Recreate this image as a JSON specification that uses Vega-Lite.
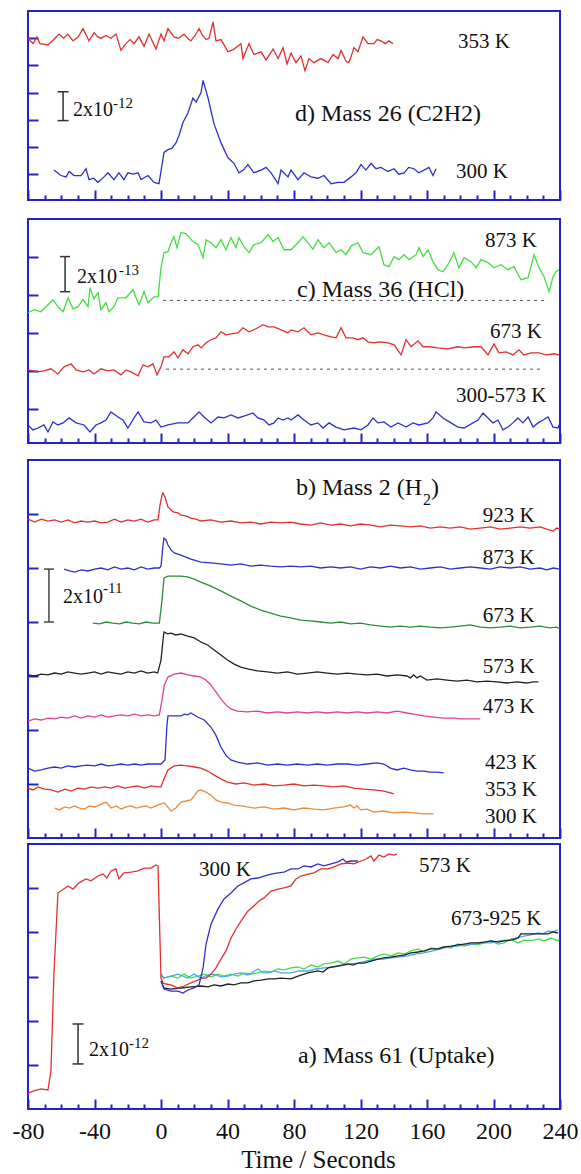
{
"$schema": "https://vega.github.io/schema/vega-lite/v6.json",
"padding": {"left": 11, "top": 10, "right": 5, "bottom": 0},
"background": "white",
"config": {"view": {"stroke": "#2323cc", "strokeWidth": 2}, "font": "Liberation Serif, Times New Roman, Times, DejaVu Serif, serif", "text": {"font": "Liberation Serif, Times New Roman, Times, DejaVu Serif, serif"}},
"datasets": {
"d": [
{"s":"d353","t":-80,"v":12.0},{"s":"d353","t":-77,"v":11.6},{"s":"d353","t":-74.6,"v":12.1},{"s":"d353","t":-72.8,"v":11.6},{"s":"d353","t":-68,"v":11.5},{"s":"d353","t":-64.5,"v":11.9},{"s":"d353","t":-61.4,"v":12.3},{"s":"d353","t":-58.5,"v":12.0},{"s":"d353","t":-56,"v":12.3},{"s":"d353","t":-52.9,"v":11.8},{"s":"d353","t":-49.8,"v":12.1},{"s":"d353","t":-46.9,"v":12.7},{"s":"d353","t":-43.3,"v":11.8},{"s":"d353","t":-40.3,"v":12.4},{"s":"d353","t":-38,"v":12.1},{"s":"d353","t":-36.1,"v":12.0},{"s":"d353","t":-33,"v":12.2},{"s":"d353","t":-30.1,"v":12.0},{"s":"d353","t":-27,"v":12.3},{"s":"d353","t":-24.1,"v":11.1},{"s":"d353","t":-21.1,"v":11.6},{"s":"d353","t":-18.5,"v":11.9},{"s":"d353","t":-16.2,"v":11.6},{"s":"d353","t":-13.2,"v":12.1},{"s":"d353","t":-10.2,"v":11.4},{"s":"d353","t":-7.2,"v":12.3},{"s":"d353","t":-3,"v":11.2},{"s":"d353","t":0,"v":12.3},{"s":"d353","t":1.8,"v":11.8},{"s":"d353","t":4.2,"v":12.7},{"s":"d353","t":7.8,"v":12.1},{"s":"d353","t":10.5,"v":12.0},{"s":"d353","t":13.8,"v":12.3},{"s":"d353","t":16,"v":12.0},{"s":"d353","t":18,"v":11.8},{"s":"d353","t":20.5,"v":12.2},{"s":"d353","t":22.9,"v":12.7},{"s":"d353","t":25,"v":12.2},{"s":"d353","t":27.1,"v":11.9},{"s":"d353","t":28.9,"v":12.0},{"s":"d353","t":31.3,"v":13.2},{"s":"d353","t":33.1,"v":11.8},{"s":"d353","t":36.1,"v":11.9},{"s":"d353","t":40.3,"v":11.0},{"s":"d353","t":43.9,"v":11.2},{"s":"d353","t":48.1,"v":11.6},{"s":"d353","t":49.3,"v":10.5},{"s":"d353","t":52.9,"v":11.6},{"s":"d353","t":55.9,"v":10.8},{"s":"d353","t":60.2,"v":11.0},{"s":"d353","t":63.2,"v":10.4},{"s":"d353","t":67.4,"v":11.2},{"s":"d353","t":70.4,"v":10.5},{"s":"d353","t":73.4,"v":11.3},{"s":"d353","t":75.8,"v":10.1},{"s":"d353","t":78.2,"v":10.9},{"s":"d353","t":81.2,"v":10.2},{"s":"d353","t":84.2,"v":10.7},{"s":"d353","t":86.6,"v":9.6},{"s":"d353","t":89,"v":10.5},{"s":"d353","t":92,"v":10.2},{"s":"d353","t":96.2,"v":10.5},{"s":"d353","t":100.5,"v":10.2},{"s":"d353","t":103.5,"v":10.8},{"s":"d353","t":106.5,"v":10.5},{"s":"d353","t":108.3,"v":11.1},{"s":"d353","t":111.3,"v":10.3},{"s":"d353","t":113.1,"v":10.2},{"s":"d353","t":116.1,"v":11.3},{"s":"d353","t":118.5,"v":11.0},{"s":"d353","t":121.5,"v":12.1},{"s":"d353","t":124.5,"v":11.6},{"s":"d353","t":128.1,"v":11.6},{"s":"d353","t":130,"v":11.9},{"s":"d353","t":132.3,"v":11.8},{"s":"d353","t":135,"v":11.6},{"s":"d353","t":137.1,"v":11.8},{"s":"d353","t":139.5,"v":11.6},
{"s":"d300","t":-64.4,"v":2.3},{"s":"d300","t":-60.2,"v":1.9},{"s":"d300","t":-57.1,"v":1.8},{"s":"d300","t":-55.3,"v":2.2},{"s":"d300","t":-52.3,"v":1.9},{"s":"d300","t":-48.1,"v":1.9},{"s":"d300","t":-45.1,"v":2.4},{"s":"d300","t":-43.3,"v":1.6},{"s":"d300","t":-40.5,"v":1.7},{"s":"d300","t":-37.9,"v":1.4},{"s":"d300","t":-34.3,"v":1.8},{"s":"d300","t":-31.9,"v":2.1},{"s":"d300","t":-28.3,"v":1.6},{"s":"d300","t":-25.3,"v":2.1},{"s":"d300","t":-22.3,"v":1.6},{"s":"d300","t":-19.9,"v":2.1},{"s":"d300","t":-16.8,"v":2.0},{"s":"d300","t":-13.8,"v":2.1},{"s":"d300","t":-12,"v":1.6},{"s":"d300","t":-7.8,"v":1.9},{"s":"d300","t":-4.2,"v":1.4},{"s":"d300","t":-1.2,"v":1.3},{"s":"d300","t":1.8,"v":3.6},{"s":"d300","t":4.2,"v":3.8},{"s":"d300","t":6.5,"v":3.9},{"s":"d300","t":9,"v":4.3},{"s":"d300","t":11,"v":4.9},{"s":"d300","t":13.2,"v":5.8},{"s":"d300","t":16.2,"v":6.5},{"s":"d300","t":19.2,"v":7.6},{"s":"d300","t":21.1,"v":7.3},{"s":"d300","t":24.1,"v":8.0},{"s":"d300","t":25.3,"v":8.9},{"s":"d300","t":28.3,"v":7.6},{"s":"d300","t":31.9,"v":5.7},{"s":"d300","t":36.1,"v":4.3},{"s":"d300","t":40.3,"v":3.2},{"s":"d300","t":43.9,"v":2.8},{"s":"d300","t":46.9,"v":2.1},{"s":"d300","t":49.5,"v":2.3},{"s":"d300","t":52.3,"v":2.7},{"s":"d300","t":55.9,"v":2.1},{"s":"d300","t":60.2,"v":2.3},{"s":"d300","t":63.2,"v":2.5},{"s":"d300","t":66.2,"v":2.1},{"s":"d300","t":70.4,"v":1.3},{"s":"d300","t":72.2,"v":2.3},{"s":"d300","t":76.4,"v":1.8},{"s":"d300","t":78.2,"v":2.3},{"s":"d300","t":82.4,"v":1.6},{"s":"d300","t":86,"v":2.1},{"s":"d300","t":90.2,"v":1.8},{"s":"d300","t":94.4,"v":1.7},{"s":"d300","t":98,"v":1.9},{"s":"d300","t":102.3,"v":1.3},{"s":"d300","t":106.5,"v":1.4},{"s":"d300","t":110.1,"v":1.4},{"s":"d300","t":114.3,"v":1.8},{"s":"d300","t":117.3,"v":2.1},{"s":"d300","t":120.3,"v":2.7},{"s":"d300","t":123.3,"v":2.3},{"s":"d300","t":126.3,"v":2.8},{"s":"d300","t":129.3,"v":2.4},{"s":"d300","t":132.3,"v":2.5},{"s":"d300","t":136.5,"v":2.2},{"s":"d300","t":140.2,"v":2.4},{"s":"d300","t":143,"v":2.0},{"s":"d300","t":146.2,"v":2.1},{"s":"d300","t":149,"v":2.5},{"s":"d300","t":152.2,"v":2.4},{"s":"d300","t":155,"v":2.1},{"s":"d300","t":158.2,"v":2.3},{"s":"d300","t":161.2,"v":2.5},{"s":"d300","t":163.6,"v":1.9},{"s":"d300","t":165.4,"v":2.4}
],
"c": [
{"s":"c873","t":-80,"v":7.06},{"s":"c873","t":-76.4,"v":7.22},{"s":"c873","t":-72.2,"v":7.11},{"s":"c873","t":-68,"v":7.48},{"s":"c873","t":-65,"v":7.75},{"s":"c873","t":-62,"v":7.38},{"s":"c873","t":-58.9,"v":7.11},{"s":"c873","t":-55.9,"v":7.85},{"s":"c873","t":-52.9,"v":7.27},{"s":"c873","t":-49.9,"v":7.38},{"s":"c873","t":-46.9,"v":7.75},{"s":"c873","t":-43.9,"v":7.38},{"s":"c873","t":-42.7,"v":8.38},{"s":"c873","t":-40.3,"v":7.8},{"s":"c873","t":-37.9,"v":8.12},{"s":"c873","t":-36.1,"v":7.22},{"s":"c873","t":-33.1,"v":7.59},{"s":"c873","t":-31.3,"v":7.11},{"s":"c873","t":-28.3,"v":7.38},{"s":"c873","t":-25.9,"v":7.85},{"s":"c873","t":-21.1,"v":7.85},{"s":"c873","t":-16.8,"v":8.27},{"s":"c873","t":-15,"v":7.85},{"s":"c873","t":-13.2,"v":7.48},{"s":"c873","t":-10.2,"v":8.17},{"s":"c873","t":-7.8,"v":7.59},{"s":"c873","t":-4.2,"v":7.9},{"s":"c873","t":-1.8,"v":7.9},{"s":"c873","t":0,"v":9.43},{"s":"c873","t":1.8,"v":10.23},{"s":"c873","t":4.2,"v":10.28},{"s":"c873","t":6,"v":10.75},{"s":"c873","t":7.8,"v":11.07},{"s":"c873","t":9.6,"v":10.49},{"s":"c873","t":12,"v":11.28},{"s":"c873","t":15,"v":11.23},{"s":"c873","t":19.2,"v":10.81},{"s":"c873","t":22.3,"v":10.65},{"s":"c873","t":25.3,"v":9.96},{"s":"c873","t":27.1,"v":10.91},{"s":"c873","t":30.1,"v":10.75},{"s":"c873","t":33.1,"v":10.49},{"s":"c873","t":36.1,"v":10.91},{"s":"c873","t":39.1,"v":10.38},{"s":"c873","t":42.1,"v":11.02},{"s":"c873","t":45.1,"v":10.49},{"s":"c873","t":46.9,"v":11.02},{"s":"c873","t":49.9,"v":10.54},{"s":"c873","t":52.9,"v":10.23},{"s":"c873","t":55.9,"v":10.65},{"s":"c873","t":60.2,"v":10.75},{"s":"c873","t":64.4,"v":11.18},{"s":"c873","t":67.4,"v":10.81},{"s":"c873","t":70.4,"v":11.02},{"s":"c873","t":74,"v":10.38},{"s":"c873","t":78.2,"v":10.38},{"s":"c873","t":82.4,"v":10.75},{"s":"c873","t":85.4,"v":11.07},{"s":"c873","t":88.4,"v":10.75},{"s":"c873","t":91.4,"v":10.4},{"s":"c873","t":94.4,"v":10.91},{"s":"c873","t":98,"v":10.49},{"s":"c873","t":101.1,"v":10.75},{"s":"c873","t":105.3,"v":10.23},{"s":"c873","t":108.3,"v":10.38},{"s":"c873","t":111.3,"v":10.12},{"s":"c873","t":114.5,"v":10.6},{"s":"c873","t":118.5,"v":10.75},{"s":"c873","t":121.5,"v":10.23},{"s":"c873","t":126.3,"v":10.12},{"s":"c873","t":131.1,"v":10.54},{"s":"c873","t":134.1,"v":9.59},{"s":"c873","t":137.1,"v":9.49},{"s":"c873","t":140.2,"v":10.02},{"s":"c873","t":143.2,"v":9.86},{"s":"c873","t":146.2,"v":10.12},{"s":"c873","t":149.2,"v":9.86},{"s":"c873","t":153.4,"v":10.12},{"s":"c873","t":155.2,"v":10.49},{"s":"c873","t":157.6,"v":10.02},{"s":"c873","t":160.6,"v":10.38},{"s":"c873","t":163.6,"v":9.75},{"s":"c873","t":166.6,"v":9.33},{"s":"c873","t":169.6,"v":9.22},{"s":"c873","t":172.6,"v":9.59},{"s":"c873","t":176.2,"v":10.23},{"s":"c873","t":179.2,"v":9.43},{"s":"c873","t":182.3,"v":9.96},{"s":"c873","t":186.5,"v":9.75},{"s":"c873","t":189.5,"v":9.43},{"s":"c873","t":192.5,"v":9.86},{"s":"c873","t":196.7,"v":9.7},{"s":"c873","t":200.3,"v":9.43},{"s":"c873","t":204.5,"v":9.59},{"s":"c873","t":208.7,"v":9.33},{"s":"c873","t":212.3,"v":9.49},{"s":"c873","t":216.5,"v":8.8},{"s":"c873","t":220.8,"v":8.91},{"s":"c873","t":224.4,"v":10.12},{"s":"c873","t":227.4,"v":9.43},{"s":"c873","t":230.4,"v":8.96},{"s":"c873","t":233.4,"v":8.17},{"s":"c873","t":235.8,"v":8.96},{"s":"c873","t":237.6,"v":9.22},{"s":"c873","t":239.4,"v":9.33},
{"s":"c673","t":-80,"v":4.05},{"s":"c673","t":-74,"v":3.95},{"s":"c673","t":-70.4,"v":4.0},{"s":"c673","t":-66.2,"v":4.11},{"s":"c673","t":-62,"v":3.84},{"s":"c673","t":-58.3,"v":4.21},{"s":"c673","t":-54.1,"v":4.37},{"s":"c673","t":-51.1,"v":4.05},{"s":"c673","t":-46.9,"v":3.95},{"s":"c673","t":-43.3,"v":4.05},{"s":"c673","t":-40.3,"v":3.84},{"s":"c673","t":-36.1,"v":4.11},{"s":"c673","t":-31.9,"v":4.0},{"s":"c673","t":-28.3,"v":4.05},{"s":"c673","t":-24.1,"v":3.79},{"s":"c673","t":-21.1,"v":4.05},{"s":"c673","t":-18,"v":3.95},{"s":"c673","t":-13.8,"v":3.74},{"s":"c673","t":-10.8,"v":4.32},{"s":"c673","t":-7.8,"v":4.21},{"s":"c673","t":-4.8,"v":4.37},{"s":"c673","t":-2.4,"v":3.79},{"s":"c673","t":0,"v":4.21},{"s":"c673","t":1.8,"v":4.74},{"s":"c673","t":4.8,"v":4.74},{"s":"c673","t":7.8,"v":5.0},{"s":"c673","t":10.2,"v":4.69},{"s":"c673","t":13.2,"v":5.11},{"s":"c673","t":16.2,"v":4.9},{"s":"c673","t":19.2,"v":5.27},{"s":"c673","t":22.3,"v":5.37},{"s":"c673","t":24.1,"v":5.21},{"s":"c673","t":27.1,"v":5.48},{"s":"c673","t":30.1,"v":5.64},{"s":"c673","t":33.1,"v":5.74},{"s":"c673","t":36.1,"v":6.06},{"s":"c673","t":39.1,"v":5.9},{"s":"c673","t":42.1,"v":5.95},{"s":"c673","t":46.3,"v":6.0},{"s":"c673","t":49.3,"v":6.27},{"s":"c673","t":52.9,"v":6.06},{"s":"c673","t":57.1,"v":6.22},{"s":"c673","t":61.4,"v":6.43},{"s":"c673","t":64.4,"v":6.32},{"s":"c673","t":68,"v":6.32},{"s":"c673","t":72.2,"v":6.16},{"s":"c673","t":76.4,"v":6.0},{"s":"c673","t":78.2,"v":6.16},{"s":"c673","t":82.4,"v":6.06},{"s":"c673","t":86,"v":6.27},{"s":"c673","t":90.2,"v":5.9},{"s":"c673","t":94.4,"v":6.0},{"s":"c673","t":98,"v":5.9},{"s":"c673","t":102.3,"v":5.79},{"s":"c673","t":105.3,"v":5.74},{"s":"c673","t":108.3,"v":6.27},{"s":"c673","t":111.3,"v":5.74},{"s":"c673","t":115.5,"v":5.74},{"s":"c673","t":118.5,"v":5.64},{"s":"c673","t":121.5,"v":5.74},{"s":"c673","t":124.5,"v":5.53},{"s":"c673","t":128.1,"v":5.48},{"s":"c673","t":132.3,"v":5.53},{"s":"c673","t":136.5,"v":5.48},{"s":"c673","t":140.2,"v":5.37},{"s":"c673","t":144.4,"v":4.84},{"s":"c673","t":147.4,"v":5.64},{"s":"c673","t":150.4,"v":5.27},{"s":"c673","t":154.6,"v":5.58},{"s":"c673","t":157.6,"v":5.27},{"s":"c673","t":161.2,"v":5.27},{"s":"c673","t":166.6,"v":5.21},{"s":"c673","t":172.6,"v":5.16},{"s":"c673","t":178.6,"v":5.27},{"s":"c673","t":182.3,"v":5.21},{"s":"c673","t":188.3,"v":5.27},{"s":"c673","t":192.5,"v":5.27},{"s":"c673","t":196.7,"v":4.84},{"s":"c673","t":200.3,"v":5.42},{"s":"c673","t":203.3,"v":4.95},{"s":"c673","t":207.5,"v":5.0},{"s":"c673","t":211.7,"v":4.84},{"s":"c673","t":215.3,"v":5.11},{"s":"c673","t":218.3,"v":4.84},{"s":"c673","t":222.6,"v":4.95},{"s":"c673","t":227.4,"v":4.95},{"s":"c673","t":231.6,"v":4.84},{"s":"c673","t":236.4,"v":4.9},{"s":"c673","t":239.4,"v":4.84},
{"s":"c300","t":-80,"v":1.15},{"s":"c300","t":-77,"v":0.89},{"s":"c300","t":-74,"v":0.99},{"s":"c300","t":-70.4,"v":1.15},{"s":"c300","t":-68,"v":0.78},{"s":"c300","t":-65,"v":1.31},{"s":"c300","t":-62,"v":1.15},{"s":"c300","t":-58.9,"v":1.26},{"s":"c300","t":-55.3,"v":1.52},{"s":"c300","t":-51.1,"v":1.26},{"s":"c300","t":-46.3,"v":1.15},{"s":"c300","t":-42.7,"v":0.78},{"s":"c300","t":-39.1,"v":1.15},{"s":"c300","t":-36.1,"v":1.26},{"s":"c300","t":-33.1,"v":1.41},{"s":"c300","t":-30.1,"v":1.84},{"s":"c300","t":-25.9,"v":1.57},{"s":"c300","t":-22.9,"v":1.41},{"s":"c300","t":-19.9,"v":0.99},{"s":"c300","t":-16.2,"v":1.52},{"s":"c300","t":-13.8,"v":1.84},{"s":"c300","t":-10.2,"v":1.31},{"s":"c300","t":-6,"v":1.26},{"s":"c300","t":-3,"v":1.41},{"s":"c300","t":0,"v":1.04},{"s":"c300","t":4.2,"v":1.15},{"s":"c300","t":10.2,"v":1.26},{"s":"c300","t":16.2,"v":1.26},{"s":"c300","t":19.2,"v":1.52},{"s":"c300","t":22.9,"v":1.84},{"s":"c300","t":25.9,"v":1.57},{"s":"c300","t":30.1,"v":1.26},{"s":"c300","t":34.3,"v":1.57},{"s":"c300","t":37.9,"v":1.52},{"s":"c300","t":42.1,"v":1.68},{"s":"c300","t":46.3,"v":1.52},{"s":"c300","t":49.9,"v":1.62},{"s":"c300","t":55.3,"v":1.78},{"s":"c300","t":58.3,"v":1.52},{"s":"c300","t":62,"v":1.41},{"s":"c300","t":65,"v":1.15},{"s":"c300","t":68,"v":1.26},{"s":"c300","t":70.4,"v":1.52},{"s":"c300","t":73.4,"v":1.41},{"s":"c300","t":76.4,"v":1.52},{"s":"c300","t":78.2,"v":1.41},{"s":"c300","t":82.4,"v":1.68},{"s":"c300","t":86,"v":1.41},{"s":"c300","t":90.2,"v":1.15},{"s":"c300","t":94.4,"v":1.26},{"s":"c300","t":97.4,"v":0.99},{"s":"c300","t":101.1,"v":1.26},{"s":"c300","t":105.3,"v":1.04},{"s":"c300","t":110.1,"v":0.89},{"s":"c300","t":116.1,"v":0.99},{"s":"c300","t":120.3,"v":0.89},{"s":"c300","t":124.5,"v":1.15},{"s":"c300","t":127.5,"v":1.52},{"s":"c300","t":130.5,"v":1.26},{"s":"c300","t":134.1,"v":1.31},{"s":"c300","t":138.3,"v":1.04},{"s":"c300","t":142.6,"v":1.26},{"s":"c300","t":147.4,"v":1.04},{"s":"c300","t":151.6,"v":1.26},{"s":"c300","t":155.2,"v":1.15},{"s":"c300","t":160.6,"v":1.26},{"s":"c300","t":163.6,"v":1.52},{"s":"c300","t":165.4,"v":1.84},{"s":"c300","t":169.6,"v":1.52},{"s":"c300","t":174.4,"v":1.26},{"s":"c300","t":178.6,"v":1.04},{"s":"c300","t":182.3,"v":0.99},{"s":"c300","t":187.7,"v":1.26},{"s":"c300","t":190.7,"v":1.41},{"s":"c300","t":193.7,"v":1.78},{"s":"c300","t":196.7,"v":1.52},{"s":"c300","t":199.7,"v":1.26},{"s":"c300","t":202.7,"v":1.41},{"s":"c300","t":205.7,"v":0.89},{"s":"c300","t":208.7,"v":1.04},{"s":"c300","t":211.7,"v":1.26},{"s":"c300","t":214.7,"v":1.52},{"s":"c300","t":217.7,"v":1.26},{"s":"c300","t":220.8,"v":1.57},{"s":"c300","t":223.8,"v":1.04},{"s":"c300","t":226.8,"v":1.26},{"s":"c300","t":229.8,"v":1.41},{"s":"c300","t":232.8,"v":1.57},{"s":"c300","t":235.8,"v":1.04},{"s":"c300","t":238.8,"v":0.99},{"s":"c300","t":239.4,"v":1.15}
],
"b": [
{"s":"b923","t":-80,"v":11.81},{"s":"b923","t":-76,"v":11.7},{"s":"b923","t":-72,"v":11.81},{"s":"b923","t":-68,"v":11.74},{"s":"b923","t":-64,"v":11.78},{"s":"b923","t":-60,"v":11.7},{"s":"b923","t":-56,"v":11.78},{"s":"b923","t":-52,"v":11.67},{"s":"b923","t":-48,"v":11.74},{"s":"b923","t":-44,"v":11.7},{"s":"b923","t":-40,"v":11.74},{"s":"b923","t":-36,"v":11.67},{"s":"b923","t":-32,"v":11.7},{"s":"b923","t":-28,"v":11.81},{"s":"b923","t":-24,"v":11.7},{"s":"b923","t":-20,"v":11.78},{"s":"b923","t":-16,"v":11.74},{"s":"b923","t":-12,"v":11.81},{"s":"b923","t":-8,"v":11.7},{"s":"b923","t":-4,"v":11.78},{"s":"b923","t":-1.8,"v":11.78},{"s":"b923","t":-0.6,"v":12.33},{"s":"b923","t":0.6,"v":12.7},{"s":"b923","t":1.2,"v":12.78},{"s":"b923","t":2.4,"v":12.63},{"s":"b923","t":4.2,"v":12.26},{"s":"b923","t":6,"v":12.15},{"s":"b923","t":7.8,"v":12.07},{"s":"b923","t":10.2,"v":12.04},{"s":"b923","t":12,"v":11.96},{"s":"b923","t":15,"v":11.93},{"s":"b923","t":18,"v":11.85},{"s":"b923","t":21,"v":11.81},{"s":"b923","t":24,"v":11.74},{"s":"b923","t":30,"v":11.78},{"s":"b923","t":36,"v":11.7},{"s":"b923","t":42,"v":11.74},{"s":"b923","t":48,"v":11.67},{"s":"b923","t":54,"v":11.7},{"s":"b923","t":60,"v":11.63},{"s":"b923","t":66,"v":11.7},{"s":"b923","t":72,"v":11.67},{"s":"b923","t":78,"v":11.7},{"s":"b923","t":84,"v":11.63},{"s":"b923","t":90,"v":11.59},{"s":"b923","t":96,"v":11.67},{"s":"b923","t":102,"v":11.59},{"s":"b923","t":108,"v":11.63},{"s":"b923","t":114,"v":11.56},{"s":"b923","t":120,"v":11.63},{"s":"b923","t":126,"v":11.59},{"s":"b923","t":132,"v":11.52},{"s":"b923","t":138,"v":11.59},{"s":"b923","t":144,"v":11.56},{"s":"b923","t":150,"v":11.52},{"s":"b923","t":156,"v":11.56},{"s":"b923","t":162,"v":11.48},{"s":"b923","t":168,"v":11.52},{"s":"b923","t":174,"v":11.48},{"s":"b923","t":180,"v":11.52},{"s":"b923","t":186,"v":11.44},{"s":"b923","t":192,"v":11.48},{"s":"b923","t":198,"v":11.52},{"s":"b923","t":204,"v":11.44},{"s":"b923","t":210,"v":11.48},{"s":"b923","t":216,"v":11.52},{"s":"b923","t":222,"v":11.48},{"s":"b923","t":228,"v":11.52},{"s":"b923","t":232,"v":11.44},{"s":"b923","t":236,"v":11.37},{"s":"b923","t":238,"v":11.48},{"s":"b923","t":240,"v":11.44},
{"s":"b873","t":-58.3,"v":9.96},{"s":"b873","t":-55,"v":9.89},{"s":"b873","t":-52,"v":9.85},{"s":"b873","t":-48,"v":9.93},{"s":"b873","t":-44,"v":9.89},{"s":"b873","t":-40,"v":9.96},{"s":"b873","t":-36,"v":10.0},{"s":"b873","t":-32,"v":9.93},{"s":"b873","t":-28,"v":10.04},{"s":"b873","t":-24,"v":9.96},{"s":"b873","t":-20,"v":10.0},{"s":"b873","t":-16,"v":9.93},{"s":"b873","t":-12,"v":10.04},{"s":"b873","t":-8,"v":9.96},{"s":"b873","t":-4,"v":10.0},{"s":"b873","t":-1,"v":10.0},{"s":"b873","t":0,"v":10.07},{"s":"b873","t":1.2,"v":10.85},{"s":"b873","t":1.8,"v":11.11},{"s":"b873","t":3,"v":11.04},{"s":"b873","t":4.2,"v":10.85},{"s":"b873","t":6,"v":10.67},{"s":"b873","t":8,"v":10.56},{"s":"b873","t":12,"v":10.48},{"s":"b873","t":18,"v":10.33},{"s":"b873","t":24,"v":10.22},{"s":"b873","t":30,"v":10.19},{"s":"b873","t":36,"v":10.15},{"s":"b873","t":42,"v":10.11},{"s":"b873","t":48,"v":10.15},{"s":"b873","t":54,"v":10.07},{"s":"b873","t":60,"v":10.11},{"s":"b873","t":66,"v":10.07},{"s":"b873","t":72,"v":10.04},{"s":"b873","t":78,"v":10.07},{"s":"b873","t":84,"v":10.04},{"s":"b873","t":90,"v":10.07},{"s":"b873","t":96,"v":10.0},{"s":"b873","t":102,"v":10.04},{"s":"b873","t":108,"v":10.0},{"s":"b873","t":114,"v":10.04},{"s":"b873","t":120,"v":9.96},{"s":"b873","t":126,"v":10.04},{"s":"b873","t":132,"v":10.0},{"s":"b873","t":138,"v":10.07},{"s":"b873","t":144,"v":10.0},{"s":"b873","t":150,"v":10.04},{"s":"b873","t":156,"v":9.96},{"s":"b873","t":162,"v":10.0},{"s":"b873","t":168,"v":10.04},{"s":"b873","t":174,"v":9.96},{"s":"b873","t":180,"v":10.0},{"s":"b873","t":186,"v":10.04},{"s":"b873","t":192,"v":10.0},{"s":"b873","t":198,"v":9.96},{"s":"b873","t":204,"v":10.04},{"s":"b873","t":210,"v":10.0},{"s":"b873","t":216,"v":10.04},{"s":"b873","t":222,"v":9.96},{"s":"b873","t":228,"v":10.0},{"s":"b873","t":232,"v":9.93},{"s":"b873","t":236,"v":10.0},{"s":"b873","t":240,"v":9.96},
{"s":"b673","t":-41,"v":7.96},{"s":"b673","t":-37,"v":7.93},{"s":"b673","t":-33,"v":8.0},{"s":"b673","t":-29,"v":7.96},{"s":"b673","t":-25,"v":7.93},{"s":"b673","t":-21,"v":8.0},{"s":"b673","t":-17,"v":7.96},{"s":"b673","t":-13,"v":7.93},{"s":"b673","t":-9,"v":8.0},{"s":"b673","t":-5,"v":7.96},{"s":"b673","t":-1,"v":7.96},{"s":"b673","t":0.6,"v":8.81},{"s":"b673","t":1.8,"v":9.63},{"s":"b673","t":4.2,"v":9.7},{"s":"b673","t":12,"v":9.7},{"s":"b673","t":16,"v":9.67},{"s":"b673","t":20,"v":9.59},{"s":"b673","t":24,"v":9.48},{"s":"b673","t":30,"v":9.33},{"s":"b673","t":36,"v":9.15},{"s":"b673","t":42,"v":8.96},{"s":"b673","t":48,"v":8.78},{"s":"b673","t":54,"v":8.59},{"s":"b673","t":60,"v":8.44},{"s":"b673","t":66,"v":8.33},{"s":"b673","t":72,"v":8.22},{"s":"b673","t":78,"v":8.15},{"s":"b673","t":84,"v":8.07},{"s":"b673","t":90,"v":8.04},{"s":"b673","t":96,"v":8.0},{"s":"b673","t":102,"v":7.96},{"s":"b673","t":108,"v":8.0},{"s":"b673","t":114,"v":7.93},{"s":"b673","t":120,"v":7.96},{"s":"b673","t":126,"v":7.89},{"s":"b673","t":132,"v":7.85},{"s":"b673","t":138,"v":7.81},{"s":"b673","t":144,"v":7.85},{"s":"b673","t":150,"v":7.81},{"s":"b673","t":156,"v":7.85},{"s":"b673","t":162,"v":7.81},{"s":"b673","t":168,"v":7.78},{"s":"b673","t":174,"v":7.81},{"s":"b673","t":180,"v":7.85},{"s":"b673","t":186,"v":7.89},{"s":"b673","t":192,"v":7.81},{"s":"b673","t":198,"v":7.78},{"s":"b673","t":204,"v":7.81},{"s":"b673","t":210,"v":7.85},{"s":"b673","t":216,"v":7.78},{"s":"b673","t":222,"v":7.81},{"s":"b673","t":228,"v":7.85},{"s":"b673","t":234,"v":7.78},{"s":"b673","t":238,"v":7.81},{"s":"b673","t":240,"v":7.74},
{"s":"b573","t":-80,"v":6.04},{"s":"b573","t":-76,"v":6.0},{"s":"b573","t":-72,"v":6.07},{"s":"b573","t":-68,"v":6.04},{"s":"b573","t":-64,"v":6.11},{"s":"b573","t":-60,"v":6.07},{"s":"b573","t":-56,"v":6.15},{"s":"b573","t":-52,"v":6.11},{"s":"b573","t":-48,"v":6.07},{"s":"b573","t":-44,"v":6.11},{"s":"b573","t":-40,"v":6.15},{"s":"b573","t":-36,"v":6.07},{"s":"b573","t":-32,"v":6.15},{"s":"b573","t":-28,"v":6.11},{"s":"b573","t":-24,"v":6.07},{"s":"b573","t":-20,"v":6.15},{"s":"b573","t":-16,"v":6.11},{"s":"b573","t":-12,"v":6.19},{"s":"b573","t":-8,"v":6.11},{"s":"b573","t":-4,"v":6.15},{"s":"b573","t":-2,"v":6.11},{"s":"b573","t":0,"v":6.59},{"s":"b573","t":1.2,"v":7.33},{"s":"b573","t":1.8,"v":7.63},{"s":"b573","t":4,"v":7.56},{"s":"b573","t":6,"v":7.59},{"s":"b573","t":9,"v":7.52},{"s":"b573","t":12,"v":7.56},{"s":"b573","t":16,"v":7.48},{"s":"b573","t":20,"v":7.41},{"s":"b573","t":24,"v":7.26},{"s":"b573","t":28,"v":7.15},{"s":"b573","t":32,"v":6.96},{"s":"b573","t":36,"v":6.78},{"s":"b573","t":40,"v":6.59},{"s":"b573","t":44,"v":6.44},{"s":"b573","t":48,"v":6.33},{"s":"b573","t":52,"v":6.26},{"s":"b573","t":58,"v":6.19},{"s":"b573","t":64,"v":6.15},{"s":"b573","t":70,"v":6.11},{"s":"b573","t":76,"v":6.15},{"s":"b573","t":82,"v":6.07},{"s":"b573","t":88,"v":6.11},{"s":"b573","t":94,"v":6.15},{"s":"b573","t":100,"v":6.11},{"s":"b573","t":106,"v":6.07},{"s":"b573","t":112,"v":6.11},{"s":"b573","t":118,"v":6.07},{"s":"b573","t":124,"v":6.04},{"s":"b573","t":130,"v":6.07},{"s":"b573","t":136,"v":6.0},{"s":"b573","t":142,"v":6.04},{"s":"b573","t":148,"v":6.0},{"s":"b573","t":150,"v":5.93},{"s":"b573","t":152,"v":6.04},{"s":"b573","t":154,"v":5.93},{"s":"b573","t":156,"v":6.0},{"s":"b573","t":160,"v":5.85},{"s":"b573","t":166,"v":5.89},{"s":"b573","t":172,"v":5.85},{"s":"b573","t":178,"v":5.81},{"s":"b573","t":184,"v":5.85},{"s":"b573","t":190,"v":5.78},{"s":"b573","t":196,"v":5.81},{"s":"b573","t":202,"v":5.78},{"s":"b573","t":208,"v":5.74},{"s":"b573","t":214,"v":5.78},{"s":"b573","t":220,"v":5.74},{"s":"b573","t":224,"v":5.78},{"s":"b573","t":227,"v":5.78},
{"s":"b473","t":-80,"v":4.33},{"s":"b473","t":-76,"v":4.41},{"s":"b473","t":-72,"v":4.37},{"s":"b473","t":-68,"v":4.44},{"s":"b473","t":-64,"v":4.41},{"s":"b473","t":-60,"v":4.48},{"s":"b473","t":-56,"v":4.44},{"s":"b473","t":-52,"v":4.52},{"s":"b473","t":-48,"v":4.44},{"s":"b473","t":-44,"v":4.52},{"s":"b473","t":-40,"v":4.48},{"s":"b473","t":-36,"v":4.56},{"s":"b473","t":-32,"v":4.48},{"s":"b473","t":-28,"v":4.52},{"s":"b473","t":-24,"v":4.56},{"s":"b473","t":-20,"v":4.52},{"s":"b473","t":-16,"v":4.59},{"s":"b473","t":-12,"v":4.52},{"s":"b473","t":-8,"v":4.56},{"s":"b473","t":-4,"v":4.52},{"s":"b473","t":-1,"v":4.56},{"s":"b473","t":0.6,"v":5.11},{"s":"b473","t":2,"v":5.67},{"s":"b473","t":4.2,"v":5.96},{"s":"b473","t":8,"v":6.07},{"s":"b473","t":12,"v":6.11},{"s":"b473","t":16,"v":6.04},{"s":"b473","t":20,"v":6.0},{"s":"b473","t":24,"v":5.96},{"s":"b473","t":27,"v":5.85},{"s":"b473","t":30,"v":5.67},{"s":"b473","t":33,"v":5.41},{"s":"b473","t":36,"v":5.15},{"s":"b473","t":39,"v":4.93},{"s":"b473","t":42,"v":4.78},{"s":"b473","t":46,"v":4.7},{"s":"b473","t":52,"v":4.67},{"s":"b473","t":58,"v":4.7},{"s":"b473","t":64,"v":4.63},{"s":"b473","t":70,"v":4.67},{"s":"b473","t":76,"v":4.63},{"s":"b473","t":82,"v":4.67},{"s":"b473","t":88,"v":4.63},{"s":"b473","t":94,"v":4.67},{"s":"b473","t":100,"v":4.63},{"s":"b473","t":106,"v":4.67},{"s":"b473","t":112,"v":4.63},{"s":"b473","t":118,"v":4.67},{"s":"b473","t":124,"v":4.63},{"s":"b473","t":130,"v":4.67},{"s":"b473","t":136,"v":4.63},{"s":"b473","t":142,"v":4.7},{"s":"b473","t":148,"v":4.63},{"s":"b473","t":152,"v":4.59},{"s":"b473","t":158,"v":4.52},{"s":"b473","t":164,"v":4.48},{"s":"b473","t":170,"v":4.44},{"s":"b473","t":176,"v":4.44},{"s":"b473","t":180,"v":4.41},{"s":"b473","t":186,"v":4.41},{"s":"b473","t":192,"v":4.41},
{"s":"b423","t":-80,"v":2.59},{"s":"b423","t":-76,"v":2.48},{"s":"b423","t":-72,"v":2.52},{"s":"b423","t":-68,"v":2.59},{"s":"b423","t":-64,"v":2.63},{"s":"b423","t":-60,"v":2.59},{"s":"b423","t":-56,"v":2.67},{"s":"b423","t":-52,"v":2.63},{"s":"b423","t":-48,"v":2.67},{"s":"b423","t":-44,"v":2.7},{"s":"b423","t":-40,"v":2.67},{"s":"b423","t":-36,"v":2.74},{"s":"b423","t":-32,"v":2.67},{"s":"b423","t":-28,"v":2.7},{"s":"b423","t":-24,"v":2.74},{"s":"b423","t":-20,"v":2.7},{"s":"b423","t":-16,"v":2.74},{"s":"b423","t":-12,"v":2.7},{"s":"b423","t":-8,"v":2.74},{"s":"b423","t":-4,"v":2.74},{"s":"b423","t":0,"v":2.74},{"s":"b423","t":2.4,"v":2.89},{"s":"b423","t":3.6,"v":4.19},{"s":"b423","t":4.2,"v":4.52},{"s":"b423","t":8,"v":4.52},{"s":"b423","t":12,"v":4.52},{"s":"b423","t":14,"v":4.59},{"s":"b423","t":16,"v":4.56},{"s":"b423","t":18,"v":4.63},{"s":"b423","t":22,"v":4.48},{"s":"b423","t":26,"v":4.37},{"s":"b423","t":30,"v":4.11},{"s":"b423","t":33,"v":3.81},{"s":"b423","t":36,"v":3.37},{"s":"b423","t":39,"v":3.07},{"s":"b423","t":42,"v":2.89},{"s":"b423","t":46,"v":2.81},{"s":"b423","t":52,"v":2.74},{"s":"b423","t":58,"v":2.78},{"s":"b423","t":64,"v":2.7},{"s":"b423","t":70,"v":2.74},{"s":"b423","t":76,"v":2.7},{"s":"b423","t":82,"v":2.74},{"s":"b423","t":88,"v":2.7},{"s":"b423","t":94,"v":2.74},{"s":"b423","t":100,"v":2.7},{"s":"b423","t":106,"v":2.74},{"s":"b423","t":112,"v":2.74},{"s":"b423","t":118,"v":2.7},{"s":"b423","t":124,"v":2.74},{"s":"b423","t":130,"v":2.78},{"s":"b423","t":134,"v":2.74},{"s":"b423","t":138,"v":2.59},{"s":"b423","t":142,"v":2.52},{"s":"b423","t":146,"v":2.59},{"s":"b423","t":150,"v":2.52},{"s":"b423","t":154,"v":2.48},{"s":"b423","t":158,"v":2.48},{"s":"b423","t":162,"v":2.44},{"s":"b423","t":166,"v":2.44},{"s":"b423","t":170,"v":2.41},
{"s":"b353","t":-80,"v":1.85},{"s":"b353","t":-77,"v":1.78},{"s":"b353","t":-74,"v":1.89},{"s":"b353","t":-70,"v":1.81},{"s":"b353","t":-66,"v":1.78},{"s":"b353","t":-62,"v":1.7},{"s":"b353","t":-58,"v":1.81},{"s":"b353","t":-54,"v":1.74},{"s":"b353","t":-50,"v":1.85},{"s":"b353","t":-46,"v":1.81},{"s":"b353","t":-42,"v":1.89},{"s":"b353","t":-38,"v":1.85},{"s":"b353","t":-34,"v":1.89},{"s":"b353","t":-30,"v":1.85},{"s":"b353","t":-26,"v":1.93},{"s":"b353","t":-22,"v":1.85},{"s":"b353","t":-18,"v":1.89},{"s":"b353","t":-14,"v":1.93},{"s":"b353","t":-10,"v":1.85},{"s":"b353","t":-6,"v":1.93},{"s":"b353","t":-2,"v":1.89},{"s":"b353","t":0,"v":1.89},{"s":"b353","t":2,"v":2.22},{"s":"b353","t":4.2,"v":2.52},{"s":"b353","t":8,"v":2.67},{"s":"b353","t":12,"v":2.7},{"s":"b353","t":16,"v":2.67},{"s":"b353","t":20,"v":2.63},{"s":"b353","t":24,"v":2.59},{"s":"b353","t":28,"v":2.48},{"s":"b353","t":32,"v":2.33},{"s":"b353","t":36,"v":2.19},{"s":"b353","t":40,"v":2.07},{"s":"b353","t":45,"v":2.0},{"s":"b353","t":50,"v":2.04},{"s":"b353","t":56,"v":1.96},{"s":"b353","t":62,"v":2.0},{"s":"b353","t":68,"v":1.93},{"s":"b353","t":74,"v":1.96},{"s":"b353","t":80,"v":2.0},{"s":"b353","t":86,"v":1.93},{"s":"b353","t":92,"v":1.96},{"s":"b353","t":98,"v":1.93},{"s":"b353","t":104,"v":1.89},{"s":"b353","t":110,"v":1.93},{"s":"b353","t":116,"v":1.85},{"s":"b353","t":122,"v":1.81},{"s":"b353","t":128,"v":1.78},{"s":"b353","t":134,"v":1.74},{"s":"b353","t":138,"v":1.67},{"s":"b353","t":140,"v":1.63},
{"s":"b300","t":-64,"v":1.11},{"s":"b300","t":-61,"v":1.04},{"s":"b300","t":-58,"v":1.15},{"s":"b300","t":-55,"v":1.11},{"s":"b300","t":-52,"v":1.19},{"s":"b300","t":-49,"v":1.11},{"s":"b300","t":-46,"v":1.07},{"s":"b300","t":-43,"v":1.19},{"s":"b300","t":-40,"v":1.15},{"s":"b300","t":-37,"v":1.22},{"s":"b300","t":-33,"v":1.33},{"s":"b300","t":-30,"v":1.11},{"s":"b300","t":-27,"v":1.19},{"s":"b300","t":-24,"v":1.07},{"s":"b300","t":-21,"v":1.15},{"s":"b300","t":-18,"v":1.19},{"s":"b300","t":-15,"v":1.11},{"s":"b300","t":-12,"v":1.15},{"s":"b300","t":-9,"v":1.19},{"s":"b300","t":-6,"v":1.11},{"s":"b300","t":-3,"v":1.19},{"s":"b300","t":0,"v":1.26},{"s":"b300","t":2,"v":1.3},{"s":"b300","t":4,"v":1.15},{"s":"b300","t":6,"v":1.0},{"s":"b300","t":9,"v":1.11},{"s":"b300","t":12,"v":1.33},{"s":"b300","t":15,"v":1.37},{"s":"b300","t":18,"v":1.41},{"s":"b300","t":20,"v":1.56},{"s":"b300","t":22,"v":1.74},{"s":"b300","t":24,"v":1.78},{"s":"b300","t":27,"v":1.7},{"s":"b300","t":30,"v":1.59},{"s":"b300","t":33,"v":1.41},{"s":"b300","t":36,"v":1.33},{"s":"b300","t":40,"v":1.3},{"s":"b300","t":44,"v":1.22},{"s":"b300","t":48,"v":1.19},{"s":"b300","t":52,"v":1.15},{"s":"b300","t":56,"v":1.11},{"s":"b300","t":62,"v":1.15},{"s":"b300","t":68,"v":1.07},{"s":"b300","t":74,"v":1.11},{"s":"b300","t":80,"v":1.04},{"s":"b300","t":86,"v":1.11},{"s":"b300","t":92,"v":1.07},{"s":"b300","t":98,"v":1.04},{"s":"b300","t":104,"v":1.11},{"s":"b300","t":110,"v":1.15},{"s":"b300","t":114,"v":1.22},{"s":"b300","t":116,"v":1.11},{"s":"b300","t":118,"v":1.19},{"s":"b300","t":120,"v":1.04},{"s":"b300","t":124,"v":1.07},{"s":"b300","t":128,"v":0.96},{"s":"b300","t":134,"v":1.0},{"s":"b300","t":140,"v":0.93},{"s":"b300","t":146,"v":0.96},{"s":"b300","t":152,"v":0.93},{"s":"b300","t":158,"v":0.89},{"s":"b300","t":164,"v":0.89}
],
"a": [
{"s":"aG","t":0,"v":6.02},{"s":"aG","t":1.8,"v":5.93},{"s":"aG","t":6,"v":6.02},{"s":"aG","t":10.2,"v":5.93},{"s":"aG","t":13.8,"v":6.11},{"s":"aG","t":18,"v":5.93},{"s":"aG","t":22.3,"v":6.02},{"s":"aG","t":25.9,"v":6.11},{"s":"aG","t":30.1,"v":5.98},{"s":"aG","t":34.3,"v":6.11},{"s":"aG","t":37.9,"v":6.02},{"s":"aG","t":42.1,"v":6.11},{"s":"aG","t":46.3,"v":6.02},{"s":"aG","t":49.9,"v":6.16},{"s":"aG","t":54.1,"v":6.11},{"s":"aG","t":58.3,"v":6.16},{"s":"aG","t":62,"v":6.25},{"s":"aG","t":66.2,"v":6.2},{"s":"aG","t":70.4,"v":6.34},{"s":"aG","t":74,"v":6.3},{"s":"aG","t":78.2,"v":6.39},{"s":"aG","t":82.4,"v":6.43},{"s":"aG","t":86,"v":6.34},{"s":"aG","t":90.2,"v":6.52},{"s":"aG","t":94.4,"v":6.43},{"s":"aG","t":98,"v":6.57},{"s":"aG","t":102.3,"v":6.61},{"s":"aG","t":106.5,"v":6.7},{"s":"aG","t":110.1,"v":6.57},{"s":"aG","t":114.3,"v":6.79},{"s":"aG","t":118.5,"v":6.84},{"s":"aG","t":122.1,"v":6.88},{"s":"aG","t":126.3,"v":6.79},{"s":"aG","t":130.5,"v":6.93},{"s":"aG","t":134.1,"v":7.02},{"s":"aG","t":138.3,"v":6.93},{"s":"aG","t":142.6,"v":7.07},{"s":"aG","t":146.2,"v":7.02},{"s":"aG","t":150.4,"v":7.16},{"s":"aG","t":154.6,"v":7.25},{"s":"aG","t":158.2,"v":7.11},{"s":"aG","t":162.4,"v":7.29},{"s":"aG","t":166.6,"v":7.25},{"s":"aG","t":170.2,"v":7.34},{"s":"aG","t":174.4,"v":7.29},{"s":"aG","t":178.6,"v":7.47},{"s":"aG","t":182.3,"v":7.38},{"s":"aG","t":186.5,"v":7.47},{"s":"aG","t":190.7,"v":7.43},{"s":"aG","t":194.3,"v":7.52},{"s":"aG","t":198.5,"v":7.61},{"s":"aG","t":202.7,"v":7.47},{"s":"aG","t":206.3,"v":7.52},{"s":"aG","t":210.5,"v":7.7},{"s":"aG","t":214.7,"v":7.52},{"s":"aG","t":218.3,"v":7.65},{"s":"aG","t":222.6,"v":7.61},{"s":"aG","t":226.8,"v":7.7},{"s":"aG","t":230.4,"v":7.61},{"s":"aG","t":234.6,"v":7.74},{"s":"aG","t":238.8,"v":7.61},{"s":"aG","t":239.4,"v":7.7},
{"s":"aC","t":0,"v":6.11},{"s":"aC","t":1.8,"v":5.93},{"s":"aC","t":6,"v":6.02},{"s":"aC","t":10.2,"v":6.11},{"s":"aC","t":16.2,"v":5.93},{"s":"aC","t":19.8,"v":6.11},{"s":"aC","t":24.1,"v":5.93},{"s":"aC","t":28.3,"v":6.07},{"s":"aC","t":31.9,"v":6.11},{"s":"aC","t":36.1,"v":5.98},{"s":"aC","t":40.3,"v":6.02},{"s":"aC","t":43.9,"v":6.11},{"s":"aC","t":48.1,"v":6.16},{"s":"aC","t":52.3,"v":6.07},{"s":"aC","t":58.3,"v":6.34},{"s":"aC","t":61.4,"v":6.16},{"s":"aC","t":64.4,"v":6.16},{"s":"aC","t":68,"v":6.25},{"s":"aC","t":72.2,"v":6.16},{"s":"aC","t":78.2,"v":6.16},{"s":"aC","t":83,"v":6.25},{"s":"aC","t":88.4,"v":6.25},{"s":"aC","t":93.2,"v":6.34},{"s":"aC","t":98,"v":6.39},{"s":"aC","t":103.5,"v":6.43},{"s":"aC","t":108.3,"v":6.48},{"s":"aC","t":113.7,"v":6.57},{"s":"aC","t":118.5,"v":6.61},{"s":"aC","t":123.3,"v":6.7},{"s":"aC","t":128.1,"v":6.79},{"s":"aC","t":133.5,"v":6.79},{"s":"aC","t":138.3,"v":6.84},{"s":"aC","t":143.2,"v":6.88},{"s":"aC","t":148.6,"v":6.93},{"s":"aC","t":153.4,"v":7.02},{"s":"aC","t":158.2,"v":7.07},{"s":"aC","t":163.6,"v":7.16},{"s":"aC","t":168.4,"v":7.25},{"s":"aC","t":173.2,"v":7.34},{"s":"aC","t":178.6,"v":7.38},{"s":"aC","t":183.5,"v":7.43},{"s":"aC","t":188.3,"v":7.47},{"s":"aC","t":193.7,"v":7.52},{"s":"aC","t":198.5,"v":7.52},{"s":"aC","t":203.3,"v":7.61},{"s":"aC","t":208.7,"v":7.65},{"s":"aC","t":213.5,"v":7.74},{"s":"aC","t":218.3,"v":7.83},{"s":"aC","t":222.6,"v":7.88},{"s":"aC","t":226.8,"v":7.97},{"s":"aC","t":229.8,"v":7.93},{"s":"aC","t":232.8,"v":8.06},{"s":"aC","t":235.8,"v":8.02},{"s":"aC","t":238.8,"v":8.11},
{"s":"aK","t":0,"v":5.8},{"s":"aK","t":1.8,"v":5.48},{"s":"aK","t":6,"v":5.43},{"s":"aK","t":12,"v":5.48},{"s":"aK","t":18,"v":5.53},{"s":"aK","t":24.1,"v":5.57},{"s":"aK","t":28.3,"v":5.53},{"s":"aK","t":31.9,"v":5.62},{"s":"aK","t":36.1,"v":5.57},{"s":"aK","t":40.3,"v":5.66},{"s":"aK","t":43.9,"v":5.62},{"s":"aK","t":48.1,"v":5.71},{"s":"aK","t":52.3,"v":5.71},{"s":"aK","t":55.9,"v":5.8},{"s":"aK","t":60.2,"v":5.84},{"s":"aK","t":64.4,"v":5.89},{"s":"aK","t":68,"v":5.89},{"s":"aK","t":72.2,"v":5.93},{"s":"aK","t":78.2,"v":5.89},{"s":"aK","t":82.4,"v":6.02},{"s":"aK","t":88.4,"v":6.16},{"s":"aK","t":94.4,"v":6.25},{"s":"aK","t":97.4,"v":6.2},{"s":"aK","t":100.5,"v":6.39},{"s":"aK","t":106.5,"v":6.48},{"s":"aK","t":112.5,"v":6.57},{"s":"aK","t":115.5,"v":6.52},{"s":"aK","t":118.5,"v":6.61},{"s":"aK","t":122.1,"v":6.61},{"s":"aK","t":126.3,"v":6.7},{"s":"aK","t":130.5,"v":6.79},{"s":"aK","t":134.1,"v":6.84},{"s":"aK","t":138.3,"v":6.88},{"s":"aK","t":142.6,"v":6.93},{"s":"aK","t":146.2,"v":6.97},{"s":"aK","t":150.4,"v":7.07},{"s":"aK","t":154.6,"v":7.11},{"s":"aK","t":158.2,"v":7.16},{"s":"aK","t":162.4,"v":7.25},{"s":"aK","t":166.6,"v":7.25},{"s":"aK","t":170.2,"v":7.34},{"s":"aK","t":174.4,"v":7.38},{"s":"aK","t":178.6,"v":7.43},{"s":"aK","t":182.3,"v":7.47},{"s":"aK","t":186.5,"v":7.52},{"s":"aK","t":190.7,"v":7.52},{"s":"aK","t":194.3,"v":7.56},{"s":"aK","t":198.5,"v":7.61},{"s":"aK","t":202.7,"v":7.56},{"s":"aK","t":206.3,"v":7.61},{"s":"aK","t":210.5,"v":7.65},{"s":"aK","t":214.7,"v":7.74},{"s":"aK","t":216.5,"v":7.93},{"s":"aK","t":220.8,"v":7.93},{"s":"aK","t":226.8,"v":7.93},{"s":"aK","t":232.8,"v":7.93},{"s":"aK","t":235.8,"v":8.02},{"s":"aK","t":238.8,"v":7.97},
{"s":"a573","t":-80,"v":0.72},{"s":"a573","t":-76.4,"v":0.82},{"s":"a573","t":-72.2,"v":0.91},{"s":"a573","t":-68,"v":0.86},{"s":"a573","t":-66.2,"v":1.72},{"s":"a573","t":-64.4,"v":6.11},{"s":"a573","t":-62,"v":9.78},{"s":"a573","t":-60.2,"v":9.87},{"s":"a573","t":-55.9,"v":10.1},{"s":"a573","t":-52.9,"v":9.96},{"s":"a573","t":-49.3,"v":10.24},{"s":"a573","t":-45.1,"v":10.42},{"s":"a573","t":-42.1,"v":10.33},{"s":"a573","t":-37.9,"v":10.55},{"s":"a573","t":-34.9,"v":10.64},{"s":"a573","t":-32.5,"v":10.46},{"s":"a573","t":-30.1,"v":10.78},{"s":"a573","t":-27.1,"v":10.87},{"s":"a573","t":-25.3,"v":10.42},{"s":"a573","t":-22.3,"v":10.69},{"s":"a573","t":-18,"v":10.73},{"s":"a573","t":-13.8,"v":10.78},{"s":"a573","t":-10.2,"v":10.91},{"s":"a573","t":-6,"v":10.91},{"s":"a573","t":-3,"v":11.05},{"s":"a573","t":-1.8,"v":11.01},{"s":"a573","t":0,"v":5.93},{"s":"a573","t":1.2,"v":5.71},{"s":"a573","t":3,"v":5.66},{"s":"a573","t":6,"v":5.62},{"s":"a573","t":10.2,"v":5.48},{"s":"a573","t":13.8,"v":5.57},{"s":"a573","t":18,"v":5.71},{"s":"a573","t":22.3,"v":5.84},{"s":"a573","t":24.1,"v":5.93},{"s":"a573","t":27.1,"v":5.93},{"s":"a573","t":30.1,"v":6.11},{"s":"a573","t":33.1,"v":6.39},{"s":"a573","t":36.1,"v":6.79},{"s":"a573","t":39.1,"v":7.16},{"s":"a573","t":42.1,"v":7.74},{"s":"a573","t":45.1,"v":8.15},{"s":"a573","t":48.1,"v":8.51},{"s":"a573","t":52.3,"v":8.97},{"s":"a573","t":55.9,"v":9.19},{"s":"a573","t":58.9,"v":9.42},{"s":"a573","t":62,"v":9.56},{"s":"a573","t":66.2,"v":9.87},{"s":"a573","t":70.4,"v":9.96},{"s":"a573","t":74,"v":10.01},{"s":"a573","t":78.2,"v":10.1},{"s":"a573","t":81.2,"v":10.42},{"s":"a573","t":84.2,"v":10.55},{"s":"a573","t":88.4,"v":10.64},{"s":"a573","t":92,"v":10.69},{"s":"a573","t":96.2,"v":10.87},{"s":"a573","t":100.5,"v":10.87},{"s":"a573","t":104.1,"v":10.96},{"s":"a573","t":108.3,"v":11.1},{"s":"a573","t":112.5,"v":11.14},{"s":"a573","t":116.1,"v":11.1},{"s":"a573","t":120.3,"v":11.23},{"s":"a573","t":123.3,"v":11.32},{"s":"a573","t":126.3,"v":11.46},{"s":"a573","t":128.1,"v":11.23},{"s":"a573","t":131.1,"v":11.5},{"s":"a573","t":134.1,"v":11.41},{"s":"a573","t":137.1,"v":11.55},{"s":"a573","t":140.2,"v":11.5},{"s":"a573","t":142,"v":11.55},
{"s":"a300","t":0,"v":5.8},{"s":"a300","t":1.8,"v":5.43},{"s":"a300","t":6,"v":5.34},{"s":"a300","t":10.2,"v":5.34},{"s":"a300","t":13.2,"v":5.25},{"s":"a300","t":16.2,"v":5.39},{"s":"a300","t":19.8,"v":5.48},{"s":"a300","t":22.9,"v":5.62},{"s":"a300","t":25.3,"v":6.39},{"s":"a300","t":27.1,"v":7.47},{"s":"a300","t":30.1,"v":8.38},{"s":"a300","t":34.3,"v":9.06},{"s":"a300","t":37.9,"v":9.51},{"s":"a300","t":42.1,"v":9.78},{"s":"a300","t":46.3,"v":10.1},{"s":"a300","t":49.9,"v":10.24},{"s":"a300","t":54.1,"v":10.42},{"s":"a300","t":58.3,"v":10.46},{"s":"a300","t":62,"v":10.55},{"s":"a300","t":66.2,"v":10.64},{"s":"a300","t":70.4,"v":10.69},{"s":"a300","t":74,"v":10.73},{"s":"a300","t":78.2,"v":10.87},{"s":"a300","t":82.4,"v":10.87},{"s":"a300","t":86,"v":11.01},{"s":"a300","t":90.2,"v":10.96},{"s":"a300","t":94.4,"v":11.1},{"s":"a300","t":98,"v":11.01},{"s":"a300","t":102.3,"v":11.1},{"s":"a300","t":106.5,"v":11.19},{"s":"a300","t":109.5,"v":11.32},{"s":"a300","t":111.3,"v":11.19},{"s":"a300","t":114.3,"v":11.23},{"s":"a300","t":118.5,"v":11.23}
],
"bars": [
{"p":"d","t":-58.9,"v":5.94,"v2":8.06},
{"p":"c","t":-57.7,"v":8.17,"v2":10.02},
{"p":"b","t":-67.4,"v":8.0,"v2":9.96},
{"p":"a","t":-49.9,"v":2.04,"v2":3.85}
],
"caps": [
{"p":"d","t":-62.2,"t2":-55.6,"v":5.94},{"p":"d","t":-62.2,"t2":-55.6,"v":8.06},
{"p":"c","t":-60.7,"t2":-54.7,"v":8.17},{"p":"c","t":-60.7,"t2":-54.7,"v":10.02},
{"p":"b","t":-70.4,"t2":-64.4,"v":8.0},{"p":"b","t":-70.4,"t2":-64.4,"v":9.96},
{"p":"a","t":-53.2,"t2":-46.6,"v":2.04},{"p":"a","t":-53.2,"t2":-46.6,"v":3.85}
],
"guides": [
{"p":"c","t":1.2,"t2":230.4,"v":7.71},
{"p":"c","t":3.0,"t2":230.4,"v":4.09}
],
"labels": [
{"p":"d","k":"title","t":80.6,"v":5.94,"text":"d) Mass 26 (C2H2)"},
{"p":"d","k":"temp","t":178.6,"v":11.27,"text":"353 K"},
{"p":"d","k":"temp","t":177.4,"v":1.71,"text":"300 K"},
{"p":"d","k":"scale","t":-52.9,"v":6.3,"text":"2x10"},
{"p":"d","k":"sup","t":-28.9,"v":6.89,"text":"-12"},
{"p":"c","k":"title","t":81.8,"v":7.9,"text":"c) Mass 36 (HCl)"},
{"p":"c","k":"temp","t":194.9,"v":10.54,"text":"873 K"},
{"p":"c","k":"temp","t":197.9,"v":5.74,"text":"673 K"},
{"p":"c","k":"temp","t":177.4,"v":2.36,"text":"300-573 K"},
{"p":"c","k":"scale","t":-50.5,"v":8.64,"text":"2x10"},
{"p":"c","k":"sup","t":-25.3,"v":9.07,"text":"-13"},
{"p":"b","k":"title","t":81.2,"v":12.7,"text":"b) Mass 2 (H"},
{"p":"b","k":"sub","t":157.6,"v":12.33,"text":"2"},
{"p":"b","k":"title","t":162.4,"v":12.7,"text":")"},
{"p":"b","k":"temp","t":193.5,"v":11.7,"text":"923 K"},
{"p":"b","k":"temp","t":193.5,"v":10.15,"text":"873 K"},
{"p":"b","k":"temp","t":193.5,"v":8.0,"text":"673 K"},
{"p":"b","k":"temp","t":193.5,"v":6.11,"text":"573 K"},
{"p":"b","k":"temp","t":193.5,"v":4.63,"text":"473 K"},
{"p":"b","k":"temp","t":194.9,"v":2.56,"text":"423 K"},
{"p":"b","k":"temp","t":194.9,"v":1.56,"text":"353 K"},
{"p":"b","k":"temp","t":194.9,"v":0.56,"text":"300 K"},
{"p":"b","k":"scale","t":-58.9,"v":8.7,"text":"2x10"},
{"p":"b","k":"sup","t":-34.9,"v":9.07,"text":"-11"},
{"p":"a","k":"title","t":82.4,"v":2.08,"text":"a) Mass 61 (Uptake)"},
{"p":"a","k":"temp","t":22.9,"v":10.55,"text":"300 K"},
{"p":"a","k":"temp","t":155.2,"v":10.73,"text":"573 K"},
{"p":"a","k":"temp","t":174.4,"v":8.33,"text":"673-925 K"},
{"p":"a","k":"scale","t":-43.3,"v":2.4,"text":"2x10"},
{"p":"a","k":"sup","t":-19.2,"v":2.76,"text":"-12"}
]
},
"spacing": 14,
"vconcat": [
{"spacing": 16, "resolve": {"scale": {"y": "independent"}}, "vconcat": [
{"width": 532, "height": 189,
 "encoding": {
  "x": {"field": "t", "type": "quantitative", "scale": {"domain": [-80, 240], "nice": false, "zero": false},
   "axis": {"values": [-80,-70,-60,-50,-40,-30,-20,-10,0,10,20,30,40,50,60,70,80,90,100,110,120,130,140,150,160,170,180,190,200,210,220,230,240], "tickSize": {"condition": {"test": "datum.value % 40 === 0", "value": -10}, "value": -5}, "tickColor": "#2323cc", "tickWidth": 2, "labels": false, "domain": false, "grid": false, "title": null}},
  "y": {"field": "v", "type": "quantitative", "scale": {"domain": [0.1, 14.0], "nice": false, "zero": false},
   "axis": {"values": [2,4,6,8,10,12], "tickSize": -10, "tickColor": "#2323cc", "tickWidth": 2, "labels": false, "domain": false, "grid": false, "title": null}}
 },
 "layer": [
  {"data": {"name": "d"}, "mark": {"type": "line", "strokeWidth": 1.3}, "encoding": {"color": {"field": "s", "type": "nominal", "legend": null, "scale": {"domain": ["d353","d300","c873","c673","c300","b923","b873","b673","b573","b473","b423","b353","b300","a573","a300","aG","aC","aK"], "range": ["#e03030","#3030c8","#44dd44","#e03030","#3030c8","#e03030","#3030c8","#2e8b3a","#222222","#e0408f","#3030c8","#e03030","#ec8a3c","#e03030","#3030c8","#44dd44","#4aa8e8","#222222"]}}}},
  {"data": {"name": "bars"}, "transform": [{"filter": "datum.p === 'd'"}], "mark": {"type": "rule", "color": "#333333", "strokeWidth": 1.5}, "encoding": {"y2": {"field": "v2"}}},
  {"data": {"name": "caps"}, "transform": [{"filter": "datum.p === 'd'"}], "mark": {"type": "rule", "color": "#333333", "strokeWidth": 1.5}, "encoding": {"x2": {"field": "t2"}}},
  {"data": {"name": "labels"}, "transform": [{"filter": "datum.p === 'd' && datum.k === 'title'"}], "mark": {"type": "text", "align": "left", "baseline": "alphabetic", "fontSize": 24, "color": "#111111"}, "encoding": {"text": {"field": "text"}}},
  {"data": {"name": "labels"}, "transform": [{"filter": "datum.p === 'd' && datum.k === 'temp'"}], "mark": {"type": "text", "align": "left", "baseline": "alphabetic", "fontSize": 21, "color": "#111111"}, "encoding": {"text": {"field": "text"}}},
  {"data": {"name": "labels"}, "transform": [{"filter": "datum.p === 'd' && datum.k === 'scale'"}], "mark": {"type": "text", "align": "left", "baseline": "alphabetic", "fontSize": 20, "color": "#111111"}, "encoding": {"text": {"field": "text"}}},
  {"data": {"name": "labels"}, "transform": [{"filter": "datum.p === 'd' && datum.k === 'sup'"}], "mark": {"type": "text", "align": "left", "baseline": "alphabetic", "fontSize": 15, "color": "#111111"}, "encoding": {"text": {"field": "text"}}}
 ]},
{"width": 532, "height": 224,
 "encoding": {
  "x": {"field": "t", "type": "quantitative", "scale": {"domain": [-80, 240], "nice": false, "zero": false},
   "axis": {"values": [-80,-70,-60,-50,-40,-30,-20,-10,0,10,20,30,40,50,60,70,80,90,100,110,120,130,140,150,160,170,180,190,200,210,220,230,240], "tickSize": {"condition": {"test": "datum.value % 40 === 0", "value": -10}, "value": -5}, "tickColor": "#2323cc", "tickWidth": 2, "labels": false, "domain": false, "grid": false, "title": null}},
  "y": {"field": "v", "type": "quantitative", "scale": {"domain": [0.2, 12.0], "nice": false, "zero": false},
   "axis": {"values": [2,4,6,8,10], "tickSize": -10, "tickColor": "#2323cc", "tickWidth": 2, "labels": false, "domain": false, "grid": false, "title": null}}
 },
 "layer": [
  {"data": {"name": "c"}, "mark": {"type": "line", "strokeWidth": 1.3}, "encoding": {"color": {"field": "s", "type": "nominal", "legend": null, "scale": {"domain": ["d353","d300","c873","c673","c300","b923","b873","b673","b573","b473","b423","b353","b300","a573","a300","aG","aC","aK"], "range": ["#e03030","#3030c8","#44dd44","#e03030","#3030c8","#e03030","#3030c8","#2e8b3a","#222222","#e0408f","#3030c8","#e03030","#ec8a3c","#e03030","#3030c8","#44dd44","#4aa8e8","#222222"]}}}},
  {"data": {"name": "guides"}, "mark": {"type": "rule", "color": "#555555", "strokeWidth": 1, "strokeDash": [3, 4]}, "encoding": {"x2": {"field": "t2"}}},
  {"data": {"name": "bars"}, "transform": [{"filter": "datum.p === 'c'"}], "mark": {"type": "rule", "color": "#333333", "strokeWidth": 1.5}, "encoding": {"y2": {"field": "v2"}}},
  {"data": {"name": "caps"}, "transform": [{"filter": "datum.p === 'c'"}], "mark": {"type": "rule", "color": "#333333", "strokeWidth": 1.5}, "encoding": {"x2": {"field": "t2"}}},
  {"data": {"name": "labels"}, "transform": [{"filter": "datum.p === 'c' && datum.k === 'title'"}], "mark": {"type": "text", "align": "left", "baseline": "alphabetic", "fontSize": 24, "color": "#111111"}, "encoding": {"text": {"field": "text"}}},
  {"data": {"name": "labels"}, "transform": [{"filter": "datum.p === 'c' && datum.k === 'temp'"}], "mark": {"type": "text", "align": "left", "baseline": "alphabetic", "fontSize": 21, "color": "#111111"}, "encoding": {"text": {"field": "text"}}},
  {"data": {"name": "labels"}, "transform": [{"filter": "datum.p === 'c' && datum.k === 'scale'"}], "mark": {"type": "text", "align": "left", "baseline": "alphabetic", "fontSize": 20, "color": "#111111"}, "encoding": {"text": {"field": "text"}}},
  {"data": {"name": "labels"}, "transform": [{"filter": "datum.p === 'c' && datum.k === 'sup'"}], "mark": {"type": "text", "align": "left", "baseline": "alphabetic", "fontSize": 15, "color": "#111111"}, "encoding": {"text": {"field": "text"}}}
 ]}
]},
{"spacing": 3, "resolve": {"scale": {"y": "independent"}}, "vconcat": [
{"width": 532, "height": 378,
 "encoding": {
  "x": {"field": "t", "type": "quantitative", "scale": {"domain": [-80, 240], "nice": false, "zero": false},
   "axis": {"values": [-80,-70,-60,-50,-40,-30,-20,-10,0,10,20,30,40,50,60,70,80,90,100,110,120,130,140,150,160,170,180,190,200,210,220,230,240], "tickSize": {"condition": {"test": "datum.value % 40 === 0", "value": -10}, "value": -5}, "tickColor": "#2323cc", "tickWidth": 2, "labels": false, "domain": false, "grid": false, "title": null}},
  "y": {"field": "v", "type": "quantitative", "scale": {"domain": [0, 14], "nice": false, "zero": false},
   "axis": {"values": [2,4,6,8,10,12], "tickSize": -10, "tickColor": "#2323cc", "tickWidth": 2, "labels": false, "domain": false, "grid": false, "title": null}}
 },
 "layer": [
  {"data": {"name": "b"}, "mark": {"type": "line", "strokeWidth": 1.3}, "encoding": {"color": {"field": "s", "type": "nominal", "legend": null, "scale": {"domain": ["d353","d300","c873","c673","c300","b923","b873","b673","b573","b473","b423","b353","b300","a573","a300","aG","aC","aK"], "range": ["#e03030","#3030c8","#44dd44","#e03030","#3030c8","#e03030","#3030c8","#2e8b3a","#222222","#e0408f","#3030c8","#e03030","#ec8a3c","#e03030","#3030c8","#44dd44","#4aa8e8","#222222"]}}}},
  {"data": {"name": "bars"}, "transform": [{"filter": "datum.p === 'b'"}], "mark": {"type": "rule", "color": "#444444", "strokeWidth": 1.5}, "encoding": {"y2": {"field": "v2"}}},
  {"data": {"name": "caps"}, "transform": [{"filter": "datum.p === 'b'"}], "mark": {"type": "rule", "color": "#444444", "strokeWidth": 1.5}, "encoding": {"x2": {"field": "t2"}}},
  {"data": {"name": "labels"}, "transform": [{"filter": "datum.p === 'b' && datum.k === 'title'"}], "mark": {"type": "text", "align": "left", "baseline": "alphabetic", "fontSize": 24, "color": "#111111"}, "encoding": {"text": {"field": "text"}}},
  {"data": {"name": "labels"}, "transform": [{"filter": "datum.p === 'b' && datum.k === 'sub'"}], "mark": {"type": "text", "align": "left", "baseline": "alphabetic", "fontSize": 16, "color": "#111111"}, "encoding": {"text": {"field": "text"}}},
  {"data": {"name": "labels"}, "transform": [{"filter": "datum.p === 'b' && datum.k === 'temp'"}], "mark": {"type": "text", "align": "left", "baseline": "alphabetic", "fontSize": 21, "color": "#111111"}, "encoding": {"text": {"field": "text"}}},
  {"data": {"name": "labels"}, "transform": [{"filter": "datum.p === 'b' && datum.k === 'scale'"}], "mark": {"type": "text", "align": "left", "baseline": "alphabetic", "fontSize": 20, "color": "#111111"}, "encoding": {"text": {"field": "text"}}},
  {"data": {"name": "labels"}, "transform": [{"filter": "datum.p === 'b' && datum.k === 'sup'"}], "mark": {"type": "text", "align": "left", "baseline": "alphabetic", "fontSize": 15, "color": "#111111"}, "encoding": {"text": {"field": "text"}}}
 ]},
{"width": 532, "height": 265,
 "encoding": {
  "x": {"field": "t", "type": "quantitative", "scale": {"domain": [-80, 240], "nice": false, "zero": false},
   "axis": {"values": [-80,-70,-60,-50,-40,-30,-20,-10,0,10,20,30,40,50,60,70,80,90,100,110,120,130,140,150,160,170,180,190,200,210,220,230,240], "tickSize": {"condition": {"test": "datum.value % 40 === 0", "value": -10}, "value": -5}, "tickColor": "#2323cc", "tickWidth": 2, "domain": false, "grid": false,
    "labelExpr": "datum.value % 40 === 0 ? '' + datum.value : ''", "labelFont": "Liberation Serif, Times New Roman, Times, DejaVu Serif, serif", "labelFontSize": 24, "labelColor": "#111111", "labelBaseline": "alphabetic", "labelPadding": 39, "labelFlush": false, "labelOverlap": false,
    "title": "Time / Seconds", "titleFont": "Liberation Serif, Times New Roman, Times, DejaVu Serif, serif", "titleFontSize": 25, "titleFontWeight": "normal", "titleColor": "#111111", "titleBaseline": "alphabetic", "titleX": 290, "titleY": 58}},
  "y": {"field": "v", "type": "quantitative", "scale": {"domain": [0, 12], "nice": false, "zero": false},
   "axis": {"values": [2,4,6,8,10], "tickSize": -10, "tickColor": "#2323cc", "tickWidth": 2, "labels": false, "domain": false, "grid": false, "title": null}}
 },
 "layer": [
  {"data": {"name": "a"}, "mark": {"type": "line", "strokeWidth": 1.3}, "encoding": {"color": {"field": "s", "type": "nominal", "legend": null, "scale": {"domain": ["d353","d300","c873","c673","c300","b923","b873","b673","b573","b473","b423","b353","b300","a573","a300","aG","aC","aK"], "range": ["#e03030","#3030c8","#44dd44","#e03030","#3030c8","#e03030","#3030c8","#2e8b3a","#222222","#e0408f","#3030c8","#e03030","#ec8a3c","#e03030","#3030c8","#44dd44","#4aa8e8","#222222"]}}}},
  {"data": {"name": "bars"}, "transform": [{"filter": "datum.p === 'a'"}], "mark": {"type": "rule", "color": "#333333", "strokeWidth": 1.5}, "encoding": {"y2": {"field": "v2"}}},
  {"data": {"name": "caps"}, "transform": [{"filter": "datum.p === 'a'"}], "mark": {"type": "rule", "color": "#333333", "strokeWidth": 1.5}, "encoding": {"x2": {"field": "t2"}}},
  {"data": {"name": "labels"}, "transform": [{"filter": "datum.p === 'a' && datum.k === 'title'"}], "mark": {"type": "text", "align": "left", "baseline": "alphabetic", "fontSize": 24, "color": "#111111"}, "encoding": {"text": {"field": "text"}}},
  {"data": {"name": "labels"}, "transform": [{"filter": "datum.p === 'a' && datum.k === 'temp'"}], "mark": {"type": "text", "align": "left", "baseline": "alphabetic", "fontSize": 21, "color": "#111111"}, "encoding": {"text": {"field": "text"}}},
  {"data": {"name": "labels"}, "transform": [{"filter": "datum.p === 'a' && datum.k === 'scale'"}], "mark": {"type": "text", "align": "left", "baseline": "alphabetic", "fontSize": 20, "color": "#111111"}, "encoding": {"text": {"field": "text"}}},
  {"data": {"name": "labels"}, "transform": [{"filter": "datum.p === 'a' && datum.k === 'sup'"}], "mark": {"type": "text", "align": "left", "baseline": "alphabetic", "fontSize": 15, "color": "#111111"}, "encoding": {"text": {"field": "text"}}}
 ]}
]}
]
}
